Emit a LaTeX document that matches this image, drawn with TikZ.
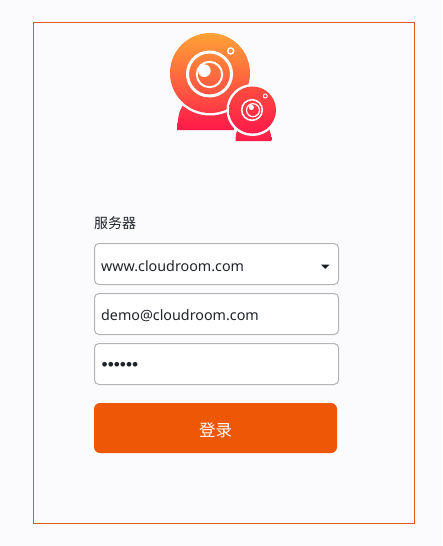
\documentclass[tikz,border=0pt]{standalone}
\usepackage{fontspec}
\setmainfont{Noto Sans}
\newfontfamily\cjk{Noto Sans CJK SC}
\newfontfamily\dotfont{Liberation Sans}
\definecolor{pagebg}{HTML}{FBFBFE}
\definecolor{frameC}{HTML}{DB5C20}
\definecolor{inkC}{HTML}{20242A}
\definecolor{fieldB}{HTML}{B4B4B4}
\definecolor{btnC}{HTML}{EE5706}
\definecolor{logoT}{HTML}{FFA236}
\definecolor{logoB}{HTML}{FF1A4A}
\definecolor{logoM}{HTML}{FF3845}
\definecolor{logoS}{HTML}{FF4C3E}
\tikzset{
  field/.style={draw=fieldB,line width=1pt,fill=white,rounded corners=4.5pt,minimum width=244pt,minimum height=41pt,anchor=north west,inner sep=0pt,outer sep=0pt},
  fieldtext/.style={anchor=west,inner sep=0pt,text=inkC,font=\fontsize{14.3}{17}\selectfont},
  lbl/.style={anchor=west,inner sep=0pt,text=inkC,font=\cjk\fontsize{14}{17}\selectfont},
}
\begin{document}
\begin{tikzpicture}[x=1pt,y=-1pt]
\useasboundingbox (0,0) rectangle (442,546);
\fill[pagebg] (0,0) rectangle (442,546);
\node[draw=frameC,line width=1pt,minimum width=381pt,minimum height=501pt,anchor=north west,inner sep=0pt,outer sep=0pt] (frame) at (33.5,22.5) {};
% logo, large camera
\shade[top color=logoM,bottom color=logoB] (177.5,130) .. controls (177.5,118) and (179,110) .. (184,104) -- (230,104) .. controls (233,112) and (234,120) .. (234,130) -- cycle;
\fill[pagebg] (210,73) circle (42.5);
\shade[top color=logoT,bottom color=logoM] (210,73) circle (40);
\draw[white,line width=3pt] (209.5,74) circle (22);
\draw[white,line width=2pt] (209.5,74.5) circle (12.7);
\fill[white] (204.4,70.7) circle (6.3);
\draw[white,line width=1.5pt] (230.7,51) circle (3);
% logo, small camera
\shade[top color=logoM,bottom color=logoB] (235.5,141) .. controls (235.5,135) and (236.5,131) .. (239,126) -- (268,126) .. controls (270,131) and (271.5,135) .. (271.5,141) -- cycle;
\fill[pagebg] (252.5,110) circle (26);
\shade[top color=logoS,bottom color=logoB] (252.5,110) circle (23.5);
\draw[white,line width=1.6pt] (252,110) circle (10.3);
\draw[white,line width=1.2pt] (253,110.2) circle (6.5);
\fill[white] (251.4,107.4) circle (2.6);
\draw[white,line width=1pt] (265.3,96) circle (2);
% form
\node[lbl] (serverlabel) at (94,223) {服务器};
\node[field] (server) at (94.5,243.5) {};
\node[field] (user) at (94.5,293.5) {};
\node[field] (pass) at (94.5,343.5) {};
\node[fieldtext] (servertext) at (101,266) {www.cloudroom.com};
\node[fieldtext] (usertext) at (101,316) {demo@cloudroom.com};
\node[anchor=west,inner sep=0pt,text=inkC,font=\dotfont\fontsize{17.4}{20}\selectfont] (passtext) at (101.5,366) {••••••};
\fill[inkC!85!black] (320.8,264.5) -- (329.6,264.5) -- (325.2,268.8) -- cycle;
\node[fill=btnC,rounded corners=6pt,minimum width=243pt,minimum height=50pt,anchor=north west,inner sep=0pt,outer sep=0pt,text=white,text height=16pt,text depth=0pt,font=\cjk\fontsize{16.5}{19}\selectfont] (login) at (94,403) {登录};
\end{tikzpicture}
\end{document}
